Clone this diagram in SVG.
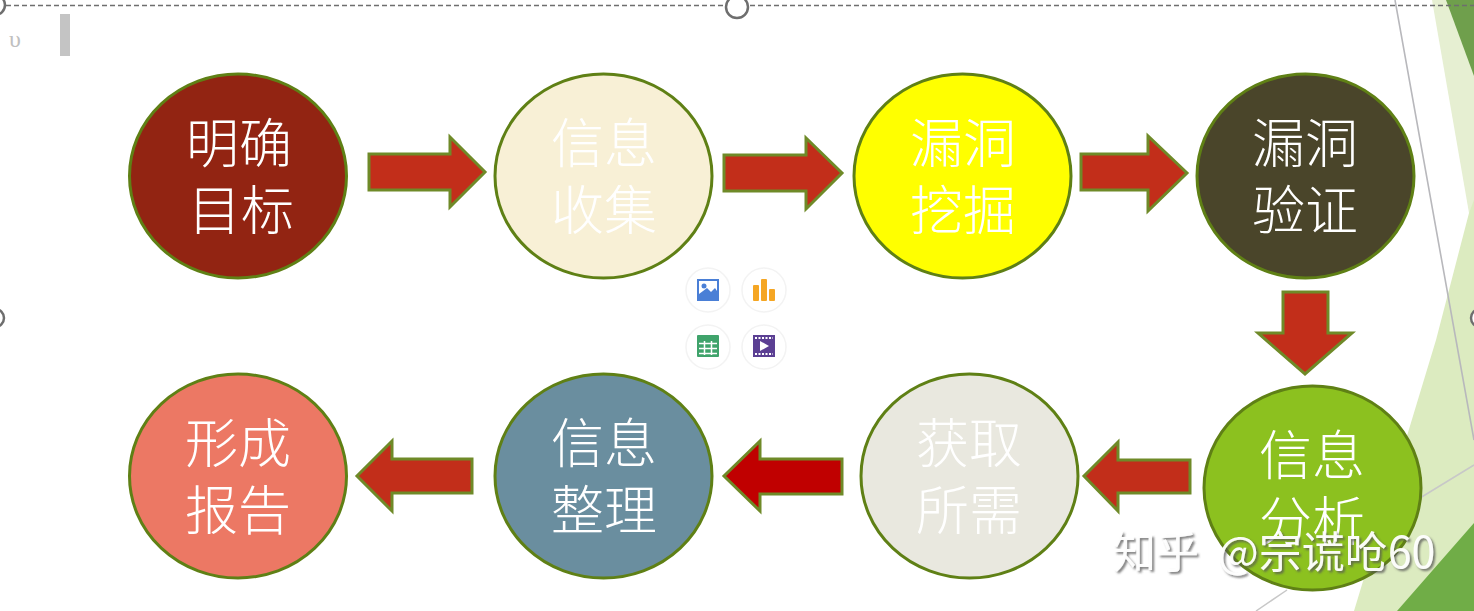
<svg xmlns="http://www.w3.org/2000/svg" width="1474" height="611" viewBox="0 0 1474 611">
<defs>
<filter id="sh" x="-10%" y="-20%" width="120%" height="140%"><feDropShadow dx="2" dy="2" stdDeviation="1" flood-color="#555" flood-opacity=".8"/></filter>
</defs>
<style>
.c{stroke:#5f8015;stroke-width:3}
.a{fill:#c22e1a;stroke:#6f8a28;stroke-width:3;stroke-linejoin:miter}
.t{font-family:"Noto Sans CJK SC","Noto Sans CJK JP",sans-serif;font-size:53px;font-weight:300;fill:#fff;text-anchor:middle}
.h{fill:#fff;stroke:#6e6e6e;stroke-width:2.5}
.d{stroke:#6e6e6e;stroke-width:1.6;stroke-dasharray:5 3;fill:none}
.ib{fill:#fff;stroke:#f3f3f3;stroke-width:1.5}
</style>
<g id="background">
<rect width="1474" height="611" fill="#fff"/>
<polygon points="1432,0 1474,0 1474,235 1469,213" fill="#e6efd2"/>
<polygon points="1474,200 1474,611 1354,611 1436,340 1469,213" fill="#dcebc0"/>
<polygon points="1446,0 1474,0 1474,76" fill="#6f9f4c"/>
<polygon points="1474,523 1474,611 1397,611" fill="#70ad47"/>
<path d="M1395,0 L1456,340 L1474,440" stroke="#b8b8bc" stroke-width="1.6" fill="none"/>
<path d="M1474,465 L1420,498 M1287,590 L1256,611" stroke="#c8c8c8" stroke-width="1.5" fill="none"/>
</g>
<g id="editor-chrome">
<path class="d" d="M6,5.500H724M750,5.500H1474"/>
<circle class="h" cx="737" cy="7" r="11"/>
<circle class="h" cx="-5" cy="5" r="10"/>
<circle class="h" cx="-5" cy="318" r="9"/>
<circle class="h" cx="1480" cy="318" r="9"/>
<rect x="60" y="14" width="10" height="42" fill="#c4c4c4"/>
<text x="15" y="47" font-family="'Liberation Serif',serif" font-size="24" fill="#c0c0c0" text-anchor="middle">υ</text>
</g>
<g id="connectors">
<polygon class="a" points="369,154 450,154 450,137 485,172 450,207 450,190 369,190"/>
<polygon class="a" points="724,155 806,155 806,138 842,173 806,209 806,191 724,191"/>
<polygon class="a" points="1081,154 1148,154 1148,136 1187,173 1148,211 1148,190 1081,190"/>
<polygon class="a" points="1283,292 1328,292 1328,333 1352,333 1305,374 1258,333 1283,333"/>
<polygon class="a" points="1190,460 1118,460 1118,442 1084,476 1118,511 1118,493 1190,493"/>
<polygon class="a" style="fill:#c00000" points="842,459 760,459 760,441 724,476 760,511 760,494 842,494"/>
<polygon class="a" points="472,459 392,459 392,441 357,476 392,511 392,493 472,493"/>
</g>
<g id="node-1"><ellipse class="c" cx="238" cy="176" rx="108.500" ry="102" fill="#922412"/><text class="t" x="239" y="163">明确</text><text class="t" x="241" y="230">目标</text></g>
<g id="node-2"><ellipse class="c" cx="603.500" cy="176" rx="108.500" ry="102" fill="#f8f0d6"/><text class="t" x="604" y="163">信息</text><text class="t" x="604" y="230">收集</text></g>
<g id="node-3"><ellipse class="c" cx="962.500" cy="176" rx="108.500" ry="102" fill="#ffff00"/><text class="t" x="963" y="163">漏洞</text><text class="t" x="963" y="230">挖掘</text></g>
<g id="node-4"><ellipse class="c" cx="1305.500" cy="176" rx="108.500" ry="102" fill="#4a452a"/><text class="t" x="1305" y="163">漏洞</text><text class="t" x="1305" y="230">验证</text></g>
<g id="node-5"><ellipse class="c" cx="1312.500" cy="488" rx="108.500" ry="102" fill="#8cc11f"/><text class="t" x="1312" y="475">信息</text><text class="t" x="1312" y="541">分析</text></g>
<g id="node-6"><ellipse class="c" cx="969.500" cy="476" rx="108.500" ry="102" fill="#e9e8df"/><text class="t" x="969" y="463">获取</text><text class="t" x="969" y="530">所需</text></g>
<g id="node-7"><ellipse class="c" cx="603.500" cy="476" rx="108.500" ry="102" fill="#6a8e9f"/><text class="t" x="604" y="463">信息</text><text class="t" x="604" y="530">整理</text></g>
<g id="node-8"><ellipse class="c" cx="238" cy="476" rx="108.500" ry="102" fill="#ec7864"/><text class="t" x="238" y="463">形成</text><text class="t" x="238" y="530">报告</text></g>
<g id="toolbar">
<circle class="ib" cx="708" cy="290" r="22"/><circle class="ib" cx="764" cy="290" r="22"/><circle class="ib" cx="708" cy="347" r="22"/><circle class="ib" cx="764" cy="347" r="22"/>
<rect x="697" y="279" width="22" height="22" fill="#4a7fd6"/><rect x="699" y="281" width="18" height="14" fill="#fff"/><circle cx="704" cy="286" r="2.500" fill="#4a7fd6"/><polygon points="699,297 699,294 707,288 711,292 715,288 717,291 717,297" fill="#4a7fd6"/>
<rect x="753" y="285" width="6" height="16" rx="1" fill="#f5a623"/><rect x="761" y="279" width="6" height="22" rx="1" fill="#f5a623"/><rect x="769" y="289" width="6" height="12" rx="1" fill="#f5a623"/>
<rect x="697" y="335" width="22" height="22" rx="1" fill="#3fa36b"/><path d="M699,343.500H717M699,348.500H717M699,353.500H717M704.500,341V355M711.500,341V355" stroke="#fff" stroke-width="1.500" fill="none"/>
<rect x="753" y="335" width="22" height="22" fill="#5b3f93"/><path d="M755,338H773M755,354H773" stroke="#fff" stroke-width="2" stroke-dasharray="2 1.500"/><polygon points="760,341 760,351 769,346" fill="#fff"/>
</g>
<g id="watermark"><text y="568" font-family="'Noto Sans CJK SC',sans-serif" font-size="43" fill="#fff" fill-opacity=".95" filter="url(#sh)"><tspan x="1113">知乎</tspan><tspan x="1218">@宗谎呛60</tspan></text></g>
</svg>
